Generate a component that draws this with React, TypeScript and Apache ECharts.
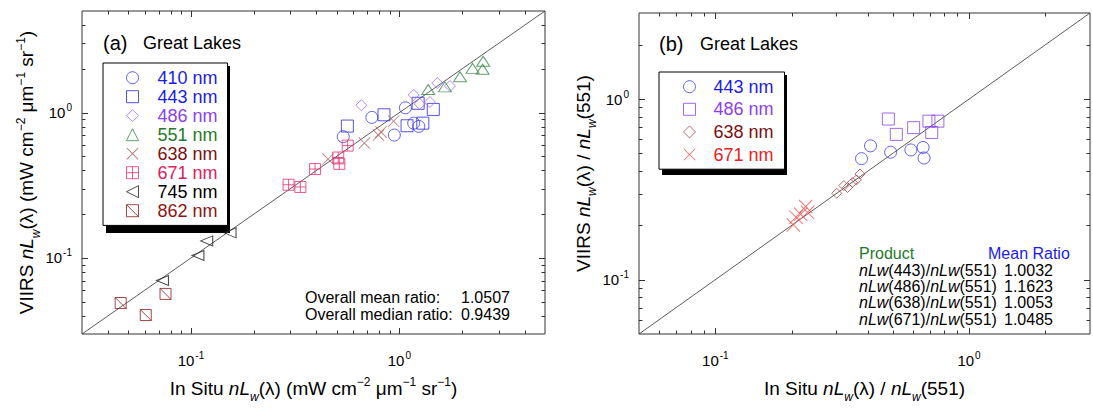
import React, { useEffect, useRef } from 'react';
import * as echarts from 'echarts';

const FONT = '"Liberation Sans", Arial, Helvetica, sans-serif';

// ---------- Panel (a): In situ vs VIIRS nLw ----------
const A_MIN = 0.03;
const A_MAX = 5;
const A_410 = [[0.738, 0.927], [1.069, 1.079], [0.538, 0.683], [0.946, 0.701], [1.172, 0.846], [1.24, 0.804]];
const A_443 = [[0.563, 0.808], [0.844, 0.966], [1.231, 1.159], [1.455, 1.052], [1.089, 0.812], [1.296, 0.846]];
const A_486 = [[0.657, 1.124], [1.172, 1.322], [1.521, 1.597], [1.75, 1.525], [1.401, 1.183], [1.253, 1.147]];
const A_551 = [[1.376, 1.442], [1.655, 1.503], [1.955, 1.766], [2.245, 2.017], [2.525, 2.254], [2.51, 1.986]];
const A_638 = [[0.455, 0.479], [0.68, 0.617], [0.794, 0.701], [0.816, 0.737], [0.939, 0.872]];
const A_671 = [[0.294, 0.319], [0.335, 0.308], [0.394, 0.409], [0.509, 0.491], [0.515, 0.444], [0.565, 0.593]];
const A_745 = [[0.154, 0.149], [0.119, 0.131], [0.108, 0.104], [0.073, 0.07]];
const A_862 = [[0.046, 0.049], [0.0607, 0.0405], [0.0755, 0.0566]];
const A_STATS_LABELS = ['Overall mean ratio:', 'Overall median ratio:'];
const A_STATS_VALUES = ['1.0507', '0.9439'];

// ---------- Panel (b): band ratios ----------
const B_MIN = 0.05;
const B_MAX = 3;
const B_443 = [[0.409, 0.551], [0.377, 0.468], [0.491, 0.508], [0.59, 0.523], [0.659, 0.54], [0.665, 0.472]];
const B_486 = [[0.481, 0.776], [0.517, 0.638], [0.605, 0.695], [0.695, 0.755], [0.754, 0.755], [0.713, 0.654]];
const B_638 = [[0.301, 0.301], [0.321, 0.332], [0.332, 0.324], [0.347, 0.345], [0.36, 0.357], [0.372, 0.385]];
const B_671 = [[0.203, 0.201], [0.208, 0.222], [0.217, 0.23], [0.227, 0.254], [0.231, 0.236]];
const B_TABLE_BANDS = ['443', '486', '638', '671'];
const B_TABLE_RATIOS = ['1.0032', '1.1623', '1.0053', '1.0485'];

// ---------- tick values ----------
const A_MAJOR_TICKS = [0.1, 1];
const A_MINOR_TICKS = [0.04, 0.05, 0.06, 0.07, 0.08, 0.09, 0.2, 0.3, 0.4, 0.5, 0.6, 0.7, 0.8, 0.9, 2, 3, 4];
const B_MAJOR_TICKS = [0.1, 1];
const B_MINOR_TICKS = [0.06, 0.07, 0.08, 0.09, 0.2, 0.3, 0.4, 0.5, 0.6, 0.7, 0.8, 0.9, 2];

// filled thin cross (x) outline
const X_SYM = 'path://M0,0.5L0.5,0L5,4.5L9.5,0L10,0.5L5.5,5L10,9.5L9.5,10L5,5.5L0.5,10L0,9.5L4.5,5Z';
const BOXPLUS_SYM = 'path://M0,0L10,0L10,10L0,10ZM5,0L5,10M0,5L10,5';
const LTRI_SYM = 'path://M0,5L10,0L10,10Z';
const BOXDIAG_SYM = 'path://M0,0L10,0L10,10L0,10ZM0,0L10,10';

function scatter(name: string, grid: number, data: number[][], symbol: string, size: any, color: string) {
  const filled = symbol === X_SYM;
  return {
    type: 'scatter',
    name,
    xAxisIndex: grid,
    yAxisIndex: grid,
    data,
    symbol,
    symbolSize: size,
    silent: true,
    z: 4,
    itemStyle: filled
      ? { color, borderColor: color, borderWidth: 0 }
      : { color: 'rgba(0,0,0,0)', borderColor: color, borderWidth: 1 },
  };
}

function tickSeries(grid: number, major: number[], minor: number[]) {
  const data: number[][] = [];
  major.forEach((v) => { data.push([v, 1, 0, 1]); data.push([1, v, 1, 1]); });
  minor.forEach((v) => { data.push([v, 1, 0, 0]); data.push([1, v, 1, 0]); });
  return {
    type: 'custom',
    xAxisIndex: grid,
    yAxisIndex: grid,
    silent: true,
    z: 3,
    data,
    renderItem: (params: any, api: any) => {
      const cs = params.coordSys;
      const kind = api.value(2);
      const len = api.value(3) ? 6 : 3.5;
      const style = { stroke: '#333', lineWidth: 1 };
      if (kind === 0) {
        const px = Math.round(api.coord([api.value(0), 1])[0]) + 0.5;
        const b = cs.y + cs.height;
        return {
          type: 'group',
          children: [
            { type: 'line', shape: { x1: px, y1: b, x2: px, y2: b - len }, style },
            { type: 'line', shape: { x1: px, y1: cs.y, x2: px, y2: cs.y + len }, style },
          ],
        };
      }
      const py = Math.round(api.coord([1, api.value(1)])[1]) + 0.5;
      const r = cs.x + cs.width;
      return {
        type: 'group',
        children: [
          { type: 'line', shape: { x1: cs.x, y1: py, x2: cs.x + len, y2: py }, style },
          { type: 'line', shape: { x1: r, y1: py, x2: r - len, y2: py }, style },
        ],
      };
    },
  };
}

const tickLabel = {
  fontFamily: FONT,
  color: '#000',
  fontSize: 15,
  formatter: (v: number) => {
    const l = Math.log10(v);
    const e = Math.round(l);
    if (Math.abs(l - e) > 1e-6) return '';
    return `{b|10}{s|${e < 0 ? '-' + Math.abs(e) : e}}`;
  },
  rich: {
    b: { fontSize: 15, lineHeight: 20, fontFamily: FONT, color: '#000' },
    s: { fontSize: 10, verticalAlign: 'top', padding: [0, 0, 0, 1], fontFamily: FONT, color: '#000' },
  },
};

const nameStyle = {
  fontSize: 19,
  fontFamily: FONT,
  color: '#000',
  lineHeight: 30,
  rich: {
    i: { fontStyle: 'italic', fontSize: 19, fontFamily: FONT, color: '#000' },
    sub: { fontStyle: 'italic', fontSize: 12, fontFamily: FONT, verticalAlign: 'bottom', color: '#000' },
    sup: { fontSize: 12, fontFamily: FONT, verticalAlign: 'top', padding: [3, 0, 0, 0], color: '#000' },
  },
};

const UNITS = '(mW cm{sup|−2} μm{sup|−1} sr{sup|−1})';

function axis(grid: number, min: number, max: number, name: string, isY: boolean, gap: number) {
  return {
    gridIndex: grid,
    type: 'log',
    logBase: 10,
    min,
    max,
    axisLine: { show: false },
    axisTick: { show: false },
    splitLine: { show: false },
    axisLabel: { ...tickLabel, margin: isY ? 10 : 16 },
    name,
    nameLocation: 'middle',
    nameRotate: isY ? 90 : 0,
    nameGap: gap,
    nameTextStyle: nameStyle,
  };
}

const A_LEGEND = [
  { name: 'a:410 nm', color: '#1c1ce6', sym: '#3a3af0', filled: false },
  { name: 'a:443 nm', color: '#1c1ce6', sym: '#2a2ad8', filled: false },
  { name: 'a:486 nm', color: '#8a3ff0', sym: '#a066ff', filled: false },
  { name: 'a:551 nm', color: '#1f7a2a', sym: '#3a8a4a', filled: false },
  { name: 'a:638 nm', color: '#7a1010', sym: '#a84848', filled: true },
  { name: 'a:671 nm', color: '#e0205a', sym: '#e83070', filled: false },
  { name: 'a:745 nm', color: '#000000', sym: '#222222', filled: false },
  { name: 'a:862 nm', color: '#8b1515', sym: '#8b1a1a', filled: false },
];
const B_LEGEND = [
  { name: 'b:443 nm', color: '#1c1ce6', sym: '#3a3af0', filled: false },
  { name: 'b:486 nm', color: '#8a3ff0', sym: '#8844ee', filled: false },
  { name: 'b:638 nm', color: '#7a1010', sym: '#a84848', filled: false },
  { name: 'b:671 nm', color: '#e82020', sym: '#f04040', filled: true },
];

function legend(items: { name: string; color: string; sym: string; filled: boolean }[], left: number, top: number, padding: number[], gap: number, textPad: number) {
  return {
    orient: 'vertical',
    left,
    top,
    padding,
    itemWidth: 12,
    itemHeight: 12,
    itemGap: gap,
    backgroundColor: '#fff',
    borderColor: '#000',
    borderWidth: 1,
    borderRadius: 0,
    selectedMode: false,
    z: 10,
    itemStyle: { borderWidth: 1 },
    formatter: (n: string) => n.slice(2),
    textStyle: { fontSize: 18, fontFamily: FONT, lineHeight: 12, padding: [0, 0, 0, textPad] },
    data: items.map((it) => ({
      name: it.name,
      textStyle: { color: it.color },
      itemStyle: it.filled
        ? { color: it.sym, borderColor: it.sym, borderWidth: 0 }
        : { color: 'rgba(0,0,0,0)', borderColor: it.sym, borderWidth: 1 },
    })),
  };
}

function text(x: number, y: number, t: string, size: number, color = '#000', extra: any = {}) {
  return {
    type: 'text',
    x,
    y,
    z: 20,
    silent: true,
    style: { text: t, fontSize: size, fontFamily: FONT, fill: color, verticalAlign: 'middle', ...extra },
  };
}

function buildOption() {
  const graphics: any[] = [
    { type: 'rect', z: 1, silent: true, shape: { x: 106, y: 66, width: 124, height: 167 }, style: { fill: '#000' } },
    { type: 'rect', z: 1, silent: true, shape: { x: 662, y: 75, width: 125, height: 100 }, style: { fill: '#000' } },
    text(103, 43, '(a)', 20),
    text(143, 43, 'Great Lakes', 18),
    text(659, 44, '(b)', 20),
    text(700, 44, 'Great Lakes', 18),
    text(859, 253, 'Product', 16, '#1f7a2a'),
    text(988, 253, 'Mean Ratio', 16, '#1c1ce6'),
  ];
  A_STATS_LABELS.forEach((l, i) => {
    graphics.push(text(305, 297 + i * 17, l, 16));
    graphics.push(text(461, 297 + i * 17, A_STATS_VALUES[i], 16));
  });
  B_TABLE_BANDS.forEach((b, i) => {
    graphics.push(
      text(859, 270 + i * 16.4, `{i|nLw}(${b})/{i|nLw}(551)`, 16, '#000', {
        rich: { i: { fontStyle: 'italic', fontSize: 16, fontFamily: FONT, fill: '#000' } },
      })
    );
    graphics.push(text(1004, 270 + i * 16.4, B_TABLE_RATIOS[i], 16));
  });

  return {
    animation: false,
    backgroundColor: '#fff',
    textStyle: { fontFamily: FONT },
    grid: [
      { left: 82, top: 11, width: 463, height: 333, show: true, borderColor: '#333', borderWidth: 1, backgroundColor: 'transparent' },
      { left: 639, top: 13, width: 464, height: 333, show: true, borderColor: '#333', borderWidth: 1, backgroundColor: 'transparent' },
    ],
    xAxis: [
      axis(0, A_MIN, A_MAX, `In Situ {i|nL}{sub|w}(λ) ${UNITS}`, false, 39),
      axis(1, B_MIN, B_MAX, 'In Situ {i|nL}{sub|w}(λ) / {i|nL}{sub|w}(551)', false, 39),
    ],
    yAxis: [
      axis(0, A_MIN, A_MAX, `VIIRS {i|nL}{sub|w}(λ) ${UNITS}`, true, 38),
      axis(1, B_MIN, B_MAX, 'VIIRS {i|nL}{sub|w}(λ) / {i|nL}{sub|w}(551)', true, 41),
    ],
    legend: [
      legend(A_LEGEND, 103, 63, [5.7, 10, 5.7, 23], 1.0, 14),
      legend(B_LEGEND, 659, 72, [5.7, 11, 5.7, 24], 4.6, 13),
    ],
    graphic: graphics,
    series: [
      {
        type: 'line', name: 'a:1:1', xAxisIndex: 0, yAxisIndex: 0, silent: true, z: 2,
        data: [[A_MIN, A_MIN], [A_MAX, A_MAX]], symbol: 'none', lineStyle: { color: '#333', width: 0.8 },
      },
      {
        type: 'line', name: 'b:1:1', xAxisIndex: 1, yAxisIndex: 1, silent: true, z: 2,
        data: [[B_MIN, B_MIN], [B_MAX, B_MAX]], symbol: 'none', lineStyle: { color: '#333', width: 0.8 },
      },
      tickSeries(0, A_MAJOR_TICKS, A_MINOR_TICKS),
      tickSeries(1, B_MAJOR_TICKS, B_MINOR_TICKS),
      scatter('a:410 nm', 0, A_410, 'circle', 12, '#3a3af0'),
      scatter('a:443 nm', 0, A_443, 'rect', 12, '#2a2ad8'),
      scatter('a:486 nm', 0, A_486, 'diamond', 11, '#a066ff'),
      scatter('a:551 nm', 0, A_551, 'triangle', [13, 10], '#3a8a4a'),
      scatter('a:638 nm', 0, A_638, X_SYM, 12, '#b05a5a'),
      scatter('a:671 nm', 0, A_671, BOXPLUS_SYM, 11, '#e83070'),
      scatter('a:745 nm', 0, A_745, LTRI_SYM, [12, 10], '#222222'),
      scatter('a:862 nm', 0, A_862, BOXDIAG_SYM, 11, '#8b1a1a'),
      scatter('b:443 nm', 1, B_443, 'circle', 12, '#3a3af0'),
      scatter('b:486 nm', 1, B_486, 'rect', 12, '#8844ee'),
      scatter('b:638 nm', 1, B_638, 'diamond', 10, '#a84848'),
      scatter('b:671 nm', 1, B_671, X_SYM, 14, '#f05050'),
    ],
  };
}

export default function App() {
  const ref = useRef<HTMLDivElement>(null);
  useEffect(() => {
    document.body.style.margin = '0';
    const chart = echarts.init(ref.current as HTMLDivElement, null, { renderer: 'svg', width: 1093, height: 408 });
    chart.setOption(buildOption() as any);
    return () => chart.dispose();
  }, []);
  return (
    <div
      ref={ref}
      style={{ position: 'fixed', left: 0, top: 0, width: 1093, height: 408, background: '#fff', overflow: 'hidden' }}
    />
  );
}
